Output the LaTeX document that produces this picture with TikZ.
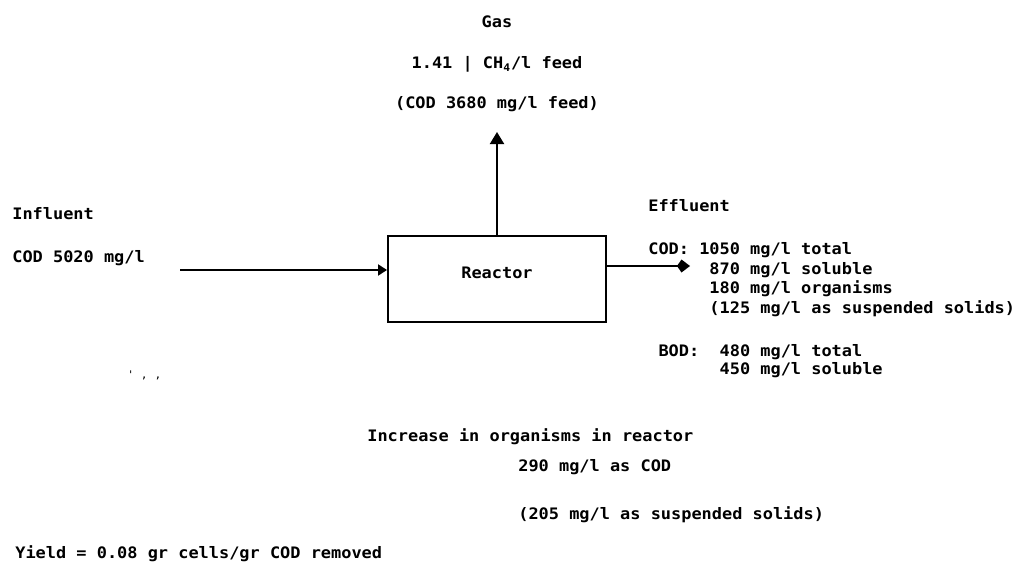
\documentclass[tikz,border=0pt]{standalone}
\usepackage{fontspec}
\newfontfamily\printfont{DejaVu Sans Mono}[FakeStretch=1.07]
\usetikzlibrary{arrows.meta}

\newcommand{\pad}[1]{\hphantom{#1}}

\tikzset{
    printtxt/.style={font=\printfont\bfseries\fontsize{9}{11.2}\selectfont, inner sep=0pt, align=left},
    reactorbox/.style={draw, line width=1.1pt, minimum width=4.36cm, minimum height=1.72cm, inner sep=0pt},
    flowline/.style={line width=1.1pt}
}

\begin{document}
\begin{tikzpicture}

            \useasboundingbox (0,0) rectangle (20.46,11.42);

            % 1. Reator (caixa central)
            \node[reactorbox] (reactor) at (9.94,5.84) {};
            \node[printtxt, anchor=base] (reactortxt) at (9.94,5.86) {Reactor};

            % 2. Gas (saida por cima)
            \node[printtxt, anchor=base] (gas) at (9.94,10.86) {Gas};
            \node[printtxt, anchor=base] (gasrate) at (9.94,10.04) {1.41 | CH\textsubscript{4}/l feed};
            \node[printtxt, anchor=base] (gascod) at (9.94,9.24) {(COD 3680 mg/l feed)};
            \coordinate (gastip) at (9.94,8.78);
            \draw[flowline, -{Triangle[length=0.24cm, width=0.28cm]}] (reactor.north) -- (gastip);

            % 3. Influent (entrada pela esquerda)
            \node[printtxt, anchor=base west] (inflabel) at (0.24,7.04) {Influent};
            \node[printtxt, anchor=base west] (infcod) at (0.24,6.18) {COD 5020 mg/l};
            \coordinate (infstart) at (3.6,6.02);
            \draw[flowline, -{Triangle[length=0.18cm, width=0.22cm]}] (infstart) -- (infstart -| reactor.west);
            \node[printtxt, anchor=base west, font=\printfont\fontsize{6}{6}\selectfont] (marks) at (2.54,3.86) {' , ,};

            % 4. Effluent (saida pela direita)
            \coordinate (efftip) at (13.8,6.10);
            \draw[flowline, -{Kite[length=0.26cm, width=0.26cm, inset=0.09cm]}] (efftip -| reactor.east) -- (efftip);
            \node[printtxt, anchor=base west] (efflabel) at (12.96,7.20) {Effluent};
            \node[printtxt, anchor=north west] (effcod) at (12.96,6.58) {
                COD: 1050 mg/l total \\
                \pad{000000}870 mg/l soluble \\
                \pad{000000}180 mg/l organisms \\
                \pad{000000}(125 mg/l as suspended solids)
            };
            \node[printtxt, anchor=north west] (effbod) at (12.96,4.54) {
                \pad{0}BOD:\pad{00}480 mg/l total \\[-1pt]
                \pad{0000000}450 mg/l soluble
            };

            % 5. Crescimento de organismos e rendimento
            \node[printtxt, anchor=base west] (increase) at (7.34,2.60) {Increase in organisms in reactor};
            \node[printtxt, anchor=base west] (inccod) at (10.36,2.00) {290 mg/l as COD};
            \node[printtxt, anchor=base west] (incss) at (10.36,1.04) {(205 mg/l as suspended solids)};
            \node[printtxt, anchor=base west] (yield) at (0.30,0.26) {Yield = 0.08 gr cells/gr COD removed};

\end{tikzpicture}
\end{document}
